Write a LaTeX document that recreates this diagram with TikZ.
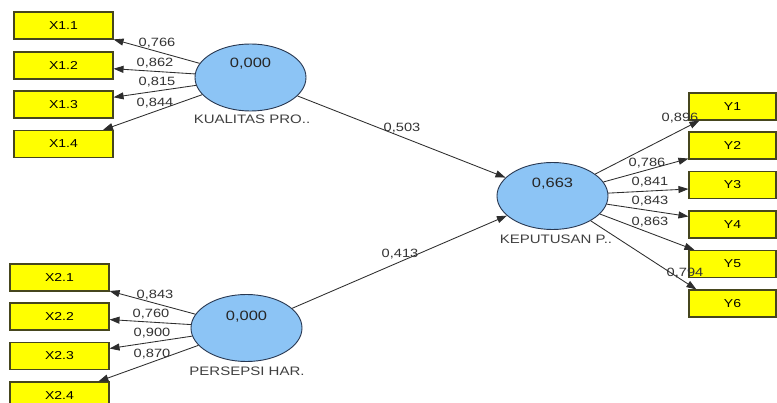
\documentclass[tikz,border=0pt]{standalone}
\usepackage{fontspec}
\setmainfont{Liberation Sans}[FakeStretch=1.22]
\usetikzlibrary{arrows.meta,calc,shapes.geometric}
\definecolor{lvfill}{RGB}{140,196,245}
\definecolor{lvdraw}{RGB}{40,55,80}
\definecolor{mvfill}{RGB}{255,255,0}
\definecolor{mvdraw}{RGB}{70,70,30}
\definecolor{pathcol}{RGB}{45,45,45}
\tikzset{
  latent/.style={ellipse, draw=lvdraw, fill=lvfill, line width=0.9pt,
    minimum width=111pt, minimum height=67pt, inner sep=0pt},
  manifest/.style={rectangle, draw=mvdraw, fill=mvfill, line width=1.1pt,
    minimum width=99pt, minimum height=27pt, inner sep=0pt,
    font=\fontsize{11.5}{13}\selectfont},
  ymanifest/.style={manifest, minimum width=87pt},
  rsq/.style={font=\fontsize{13.5}{15}\selectfont, text=black!85},
  lvname/.style={font=\fontsize{12.3}{14}\selectfont, text=black!75},
  coef/.style={font=\fontsize{12}{14}\selectfont, text=black!80, inner sep=0pt},
  arr/.style={draw=pathcol, line width=0.85pt,
    -{Triangle[length=10pt,width=7pt]}},
}
\begin{document}
\begin{tikzpicture}[x=1pt,y=-1pt]
\useasboundingbox (0,0) rectangle (777,403);
\clip (0,0) rectangle (777,403);
\fill[white] (0,0) rectangle (777,403);

% latent variables
\node[latent] (kp) at (250.5,77.5) {};
\node[latent] (ph) at (246.5,328) {};
\node[latent] (kep) at (552.5,196) {};
\node[rsq] (kpv) at (250.5,64) {0,000};
\node[rsq] (phv) at (246.5,317) {0,000};
\node[rsq] (kepv) at (552.5,184) {0,663};
\node[lvname] (kpn) at (252,119) {KUALITAS PRO..};
\node[lvname] (phn) at (247,371) {PERSEPSI HAR.};
\node[lvname] (kepn) at (556,239) {KEPUTUSAN P..};

% indicators of KUALITAS PRODUK
\node[manifest] (x11) at (63.5,25.5) {X1.1};
\node[manifest] (x12) at (63.5,65.5) {X1.2};
\node[manifest] (x13) at (63.5,104.5) {X1.3};
\node[manifest] (x14) at (63.5,144) {X1.4};

% indicators of PERSEPSI HARGA
\node[manifest] (x21) at (59.5,277.5) {X2.1};
\node[manifest] (x22) at (59.5,316.5) {X2.2};
\node[manifest] (x23) at (59.5,356) {X2.3};
\node[manifest] (x24) at (59.5,395.5) {X2.4};

% indicators of KEPUTUSAN PEMBELIAN
\node[ymanifest] (y1) at (732.5,106.5) {Y1};
\node[ymanifest] (y2) at (732.5,145.5) {Y2};
\node[ymanifest] (y3) at (732.5,185) {Y3};
\node[ymanifest] (y4) at (732.5,224.5) {Y4};
\node[ymanifest] (y5) at (732.5,264) {Y5};
\node[ymanifest] (y6) at (732.5,303.5) {Y6};

% arrow tips on the Y indicators
\coordinate (t1) at ($(y1.south west)+(11,0)$);
\coordinate (t2) at ($(y2.south west)+(0,-1)$);
\coordinate (t3) at ($(y3.west)+(0,4)$);
\coordinate (t4) at ($(y4.north west)+(0,6)$);
\coordinate (t5) at ($(y5.north west)+(6,0)$);
\coordinate (t6) at ($(y6.north west)+(8,0)$);

% outer loadings
\draw[arr] (kp) -- (x11);
\draw[arr] (kp) -- (x12);
\draw[arr] (kp) -- (x13);
\draw[arr] (kp) -- (x14);
\draw[arr] (ph) -- (x21);
\draw[arr] (ph) -- (x22);
\draw[arr] (ph) -- (x23);
\draw[arr] (ph) -- (x24);
\draw[arr] (kep) -- (t1);
\draw[arr] (kep) -- (t2);
\draw[arr] (kep) -- (t3);
\draw[arr] (kep) -- (t4);
\draw[arr] (kep) -- (t5);
\draw[arr] (kep) -- (t6);

% path coefficients
\draw[arr] (kp) -- (kep);
\draw[arr] (ph) -- (kep);

% coefficient labels
\node[coef] (l11) at (157,43) {0,766};
\node[coef] (l12) at (155,63) {0,862};
\node[coef] (l13) at (157,82) {0,815};
\node[coef] (l14) at (155,103) {0,844};
\node[coef] (l21) at (155,295) {0,843};
\node[coef] (l22) at (151,314) {0,760};
\node[coef] (l23) at (152,333) {0,900};
\node[coef] (l24) at (152,354) {0,870};
\node[coef] (ly1) at (680,118) {0,896};
\node[coef] (ly2) at (647,163) {0,786};
\node[coef] (ly3) at (650,182) {0,841};
\node[coef] (ly4) at (650,201) {0,843};
\node[coef] (ly5) at (650,222) {0,863};
\node[coef] (ly6) at (685,273) {0,794};
\node[coef] (lp1) at (402,128) {0,503};
\node[coef] (lp2) at (400,254) {0,413};
\end{tikzpicture}
\end{document}
